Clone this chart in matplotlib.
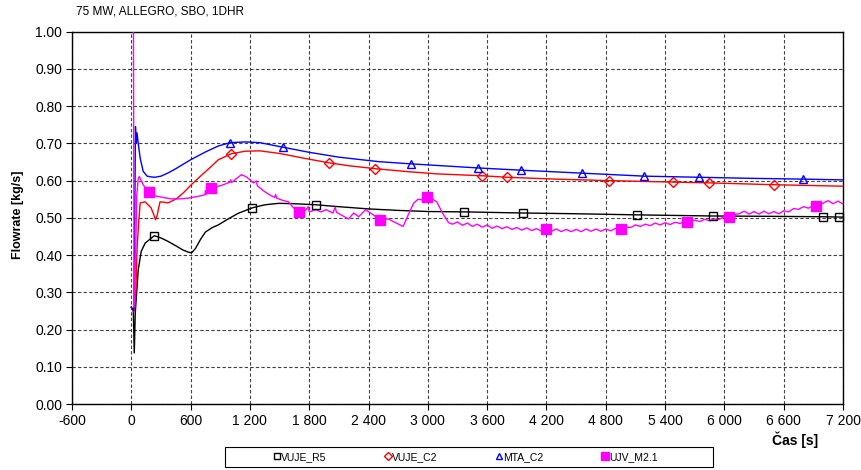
import matplotlib
matplotlib.use("Agg")
import matplotlib.pyplot as plt
from matplotlib.lines import Line2D
from matplotlib.patches import Rectangle
from matplotlib.ticker import FuncFormatter
import numpy as np

plt.rcParams['font.family'] = ['Liberation Sans', 'DejaVu Sans']

title = "75 MW, ALLEGRO, SBO, 1DHR"
series_names = ["VUJE_R5", "VUJE_C2", "MTA_C2", "UJV_M2.1"]

# VUJE_R5 (time [s], flowrate [kg/s])
r5_t = [0, 20, 30, 40, 70, 100, 140, 190, 233, 300, 370, 450, 520, 575, 610, 650,
        700, 750, 820, 880, 980, 1080, 1225, 1350, 1490, 1650, 1872, 2100, 2400,
        2700, 3005, 3370, 3967, 4500, 5120, 5880, 6500, 6993, 7200]
r5_v = [0.26, 0.25, 0.137, 0.245, 0.36, 0.41, 0.432, 0.443, 0.452, 0.446, 0.437,
        0.425, 0.414, 0.408, 0.406, 0.418, 0.442, 0.462, 0.474, 0.481, 0.497,
        0.512, 0.527, 0.535, 0.539, 0.538, 0.535, 0.530, 0.524, 0.520, 0.517,
        0.516, 0.513, 0.511, 0.508, 0.505, 0.504, 0.503, 0.502]
r5_marks = [233, 1225, 1872, 3370, 3967, 5120, 5880, 6993, 7155]

# VUJE_C2
c2_t = [0, 25, 45, 60, 75, 90, 140, 170, 200, 225, 245, 260, 290, 330, 370, 455,
        530, 607, 700, 800, 880, 1010, 1150, 1300, 1500, 1750, 1995, 2200, 2470,
        2800, 3100, 3550, 3800, 4300, 4830, 5485, 5840, 6500, 7200]
c2_v = [0.26, 0.247, 0.30, 0.427, 0.49, 0.54, 0.543, 0.535, 0.527, 0.51, 0.495,
        0.505, 0.543, 0.542, 0.54, 0.551, 0.568, 0.589, 0.612, 0.636, 0.656,
        0.672, 0.679, 0.680, 0.673, 0.660, 0.648, 0.640, 0.632, 0.624, 0.618,
        0.613, 0.609, 0.604, 0.600, 0.596, 0.594, 0.589, 0.585]
c2_marks = [1010, 1995, 2470, 3550, 3800, 4830, 5485, 5840, 6500]

# MTA_C2
mta_t = [0, 25, 35, 42, 50, 58, 70, 90, 120, 160, 200, 240, 300, 375, 450, 600,
         750, 880, 1000, 1150, 1300, 1530, 1800, 2100, 2500, 2830, 3200, 3510,
         3945, 4560, 5190, 5740, 6300, 6800, 7200]
mta_v = [0.26, 0.25, 0.50, 0.745, 0.70, 0.728, 0.70, 0.66, 0.625, 0.612, 0.61,
         0.609, 0.612, 0.621, 0.632, 0.656, 0.677, 0.693, 0.702, 0.704, 0.702,
         0.690, 0.676, 0.663, 0.651, 0.645, 0.639, 0.634, 0.628, 0.620, 0.612,
         0.609, 0.606, 0.604, 0.602]
mta_marks = [1000, 1530, 2830, 3510, 3945, 4560, 5190, 5740, 6800]

# UJV_M2.1
ujv_t = [0, 20, 28, 40, 55, 70, 80, 100, 120, 150, 180, 240, 300, 400, 500, 580,
         680, 745, 750, 755, 810, 900, 982, 1000, 1005, 1015, 1060, 1115, 1165,
         1235, 1265, 1275, 1340, 1417, 1450, 1460, 1470, 1530, 1590, 1640, 1700,
         1760, 1790, 1800, 1870, 1920, 1970, 2040, 2063, 2075, 2196, 2250, 2300,
         2370, 2420, 2520, 2600, 2650, 2750, 2800, 2855, 2900, 2950, 2995, 3040,
         3090, 3150, 3210,
         3250, 3300, 3350, 3400, 3450, 3500, 3550, 3600, 3650, 3700, 3750, 3800,
         3850, 3900, 3950, 4000, 4050, 4100, 4150, 4200, 4250, 4300, 4350, 4400,
         4450, 4500, 4550, 4600, 4650, 4700, 4750, 4800, 4850, 4900, 4950, 5000,
         5050, 5100, 5150, 5200, 5250, 5300, 5350, 5400, 5450, 5500, 5550, 5600,
         5650, 5700, 5750, 5800, 5850, 5900, 5950, 6000, 6050, 6100, 6150, 6200,
         6250, 6300, 6350, 6400, 6450, 6500, 6550, 6600, 6650, 6700, 6750, 6800,
         6850, 6900, 6950, 7000, 7050, 7100, 7150, 7200]
ujv_v = [1.2, 1.2, 0.26, 0.35, 0.56, 0.605, 0.611, 0.60, 0.589, 0.578, 0.570,
         0.559, 0.556, 0.551, 0.551, 0.553, 0.558, 0.562, 0.573, 0.563, 0.581,
         0.586, 0.594, 0.596, 0.602, 0.595, 0.605, 0.616, 0.610, 0.594, 0.599,
         0.586, 0.572, 0.559, 0.555, 0.563, 0.553, 0.547, 0.543, 0.527, 0.516,
         0.520, 0.530, 0.516, 0.522, 0.516, 0.522, 0.513, 0.529, 0.515, 0.497,
         0.513, 0.503, 0.522, 0.513, 0.495, 0.497, 0.490, 0.477, 0.507, 0.539,
         0.550, 0.548, 0.556, 0.552, 0.543, 0.512, 0.487,
         0.483, 0.489, 0.480, 0.486, 0.477, 0.483, 0.475, 0.481, 0.472, 0.478,
         0.471, 0.476, 0.469, 0.474, 0.467, 0.473, 0.466, 0.471, 0.464, 0.469,
         0.464, 0.470, 0.463, 0.469, 0.463, 0.469, 0.463, 0.470, 0.464, 0.470,
         0.464, 0.470, 0.465, 0.472, 0.469, 0.476, 0.474, 0.481, 0.477, 0.483,
         0.479, 0.486, 0.481, 0.487, 0.482, 0.488, 0.485, 0.491, 0.488, 0.494,
         0.490, 0.496, 0.492, 0.497, 0.496, 0.504, 0.502, 0.509, 0.511, 0.518,
         0.510, 0.517, 0.510, 0.518, 0.511, 0.517, 0.511, 0.519, 0.516, 0.525,
         0.523, 0.530, 0.526, 0.533, 0.531, 0.540, 0.546, 0.538, 0.545, 0.537]
ujv_marks = [180, 810, 1700, 2520, 2995, 4200, 4950, 5620, 6050, 6930]

x_ticks = list(range(-600, 7201, 600))
y_ticks = [i / 10 for i in range(0, 11)]

fig = plt.figure(figsize=(8.61, 4.70), dpi=100)
W, H = 861, 470
ax = fig.add_axes([72 / W, 1 - 404 / H, (843 - 72) / W, (404 - 31.7) / H])

styles = [
    (r5_t, r5_v, r5_marks, "black", "s", "none", 6),
    (c2_t, c2_v, c2_marks, "#ff0000", "D", "none", 4.8),
    (mta_t, mta_v, mta_marks, "#0000ff", "^", "none", 6),
    (ujv_t, ujv_v, ujv_marks, "#ff00ff", "s", "#ff00ff", 6.5),
]

for t, v, marks, col, mk, fc, ms in styles:
    ax.plot(t, v, color=col, lw=1.0, zorder=3)
    mv = np.interp(marks, t, v)
    ax.plot(marks, mv, linestyle="none", marker=mk, markersize=ms,
            markerfacecolor=fc, markeredgecolor=col, markeredgewidth=1.0,
            zorder=4, clip_on=False)

ax.set_xlim(-600, 7200)
ax.set_ylim(0, 1.0)
ax.set_xticks(x_ticks)
ax.set_yticks(y_ticks)
ax.xaxis.set_major_formatter(FuncFormatter(lambda v, p: f"{int(v):,}".replace(",", " ")))
ax.yaxis.set_major_formatter(FuncFormatter(lambda v, p: f"{v:.2f}"))
ax.tick_params(direction="out", length=4, width=0.8, labelsize=10, colors="black", pad=3)
ax.grid(True, color="#404040", linestyle=(0, (3, 2)), linewidth=0.8)
ax.set_axisbelow(True)
for s in ax.spines.values():
    s.set_linewidth(1.0)
    s.set_color("black")

fig.text(76 / W, 1 - 12 / H, title, fontsize=8.5, ha="left", va="center")
fig.text(18 / W, 1 - 215 / H, "Flowrate [kg/s]", fontsize=9, fontweight="bold",
         rotation=90, ha="center", va="center")
fig.text(795 / W, 1 - 440 / H, "Čas [s]", fontsize=10, fontweight="bold",
         ha="center", va="center")

handles = []
for (t, v, marks, col, mk, fc, ms), name in zip(styles, series_names):
    handles.append(Line2D([], [], linestyle="none", marker=mk, markersize=ms * 0.8,
                          markerfacecolor=fc, markeredgecolor=col, markeredgewidth=1.0,
                          label=name))

fig.patches.append(Rectangle((225 / W, 1 - 467 / H), (713 - 225) / W, 20 / H,
                             transform=fig.transFigure, fill=False,
                             edgecolor="black", linewidth=0.8))
fig.legend(handles=handles, loc="center", bbox_to_anchor=(466 / W, 1 - 457 / H),
           ncol=4, frameon=False, fontsize=7.5, handlelength=0.6,
           handletextpad=0.1, columnspacing=5.6, borderpad=0.2)

fig.savefig("out.png", dpi=100)
